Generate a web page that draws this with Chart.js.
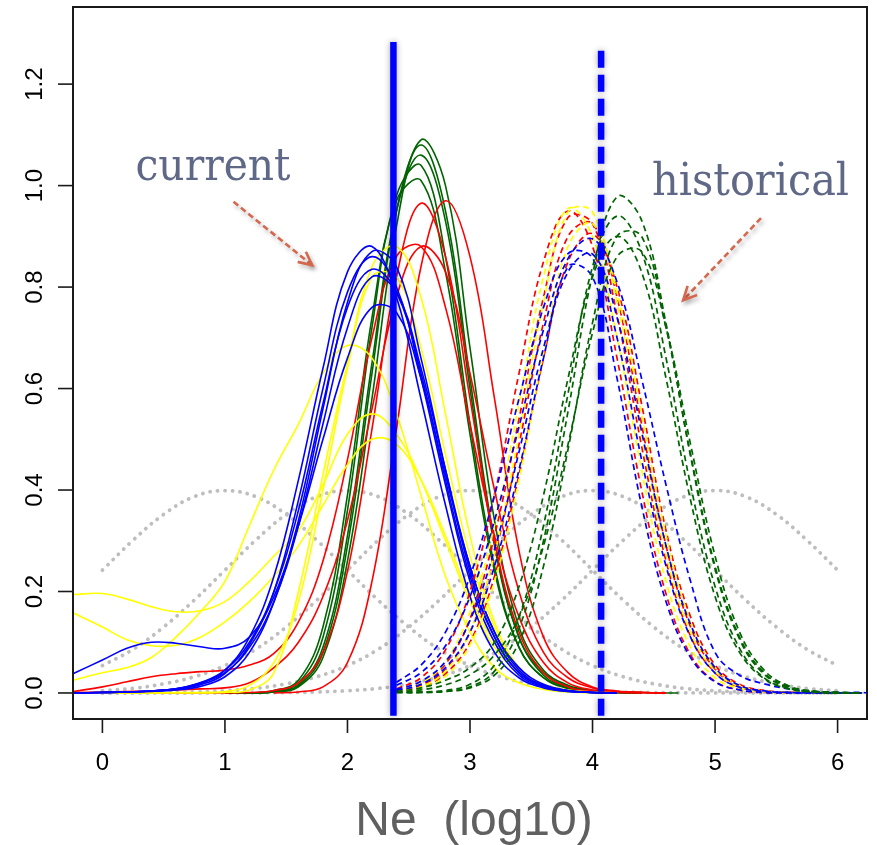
<!DOCTYPE html>
<html>
<head>
<meta charset="utf-8">
<script src="https://cdn.jsdelivr.net/npm/chart.js@4.4.1/dist/chart.umd.min.js"></script>
<style>
  html, body { margin: 0; padding: 0; background: #fff; }
  canvas { display: block; }
</style>
</head>
<body>
<canvas id="neChart" width="877" height="845"></canvas>
<script>
// x grids (log10 Ne) for each family of curves
const priorX = [0, 0.25, 0.5, 0.75, 1, 1.25, 1.5, 1.75, 2, 2.25, 2.5, 2.75, 3, 3.25, 3.5, 3.75, 4, 4.25, 4.5, 4.75, 5, 5.25, 5.5, 5.75, 6];
const currentX = [-0.24, 0, 0.2, 0.4, 0.6, 0.8, 1.0, 1.2, 1.4, 1.6, 1.8, 2.0, 2.2, 2.4, 2.6, 2.8, 3.0, 3.2, 3.4, 3.6, 3.8, 4.0, 4.2, 4.4, 4.6, 4.7];
const historicalX = [2.4, 2.6, 2.8, 3.0, 3.2, 3.4, 3.6, 3.8, 4.0, 4.2, 4.4, 4.6, 4.8, 5.0, 5.2, 5.4, 5.6, 5.8, 6.0, 6.2, 6.24];

const xTicks = [0, 1, 2, 3, 4, 5, 6];
const yTicks = [0, 0.2, 0.4, 0.6, 0.8, 1.0, 1.2];

// grey dotted prior densities
const priorCurves = [
  [0.242, 0.301, 0.352, 0.387, 0.399, 0.387, 0.352, 0.301, 0.242, 0.183, 0.130, 0.086, 0.054, 0.032, 0.018, 0.009, 0.0044, 0.002, 0.0009, 0.0004, 0.0001, 0, 0, 0, 0],
  [0.054, 0.086, 0.130, 0.183, 0.242, 0.301, 0.352, 0.387, 0.399, 0.387, 0.352, 0.301, 0.242, 0.183, 0.130, 0.086, 0.054, 0.032, 0.018, 0.009, 0.0044, 0.002, 0.0009, 0.0004, 0.0001],
  [0.0044, 0.009, 0.018, 0.032, 0.054, 0.086, 0.130, 0.183, 0.242, 0.301, 0.352, 0.387, 0.399, 0.387, 0.352, 0.301, 0.242, 0.183, 0.130, 0.086, 0.054, 0.032, 0.018, 0.009, 0.0044],
  [0.0001, 0.0004, 0.0009, 0.002, 0.0044, 0.009, 0.018, 0.032, 0.054, 0.086, 0.130, 0.183, 0.242, 0.301, 0.352, 0.387, 0.399, 0.387, 0.352, 0.301, 0.242, 0.183, 0.130, 0.086, 0.054],
  [0, 0, 0, 0, 0.0001, 0.0004, 0.0009, 0.002, 0.0044, 0.009, 0.018, 0.032, 0.054, 0.086, 0.130, 0.183, 0.242, 0.301, 0.352, 0.387, 0.399, 0.387, 0.352, 0.301, 0.242]
];

// current Ne posteriors (solid)
const blueCurrent = [
  [0, 0.001, 0.002, 0.004, 0.008, 0.018, 0.045, 0.11, 0.23, 0.42, 0.64, 0.83, 0.88, 0.78, 0.58, 0.37, 0.19, 0.08, 0.03, 0.01, 0.003, 0.001, 0, null, null, null],
  [0, 0.001, 0.002, 0.003, 0.006, 0.013, 0.032, 0.08, 0.18, 0.34, 0.56, 0.77, 0.87, 0.84, 0.66, 0.44, 0.24, 0.11, 0.04, 0.013, 0.004, 0.001, 0, null, null, null],
  [0, 0.001, 0.002, 0.004, 0.007, 0.016, 0.038, 0.095, 0.20, 0.38, 0.60, 0.79, 0.86, 0.80, 0.62, 0.41, 0.22, 0.10, 0.035, 0.012, 0.003, 0.001, 0, null, null, null],
  [0, 0.001, 0.002, 0.004, 0.008, 0.02, 0.045, 0.10, 0.20, 0.36, 0.57, 0.76, 0.835, 0.79, 0.63, 0.42, 0.23, 0.11, 0.04, 0.014, 0.004, 0.001, 0, null, null, null],
  [0, 0.001, 0.002, 0.004, 0.008, 0.02, 0.04, 0.09, 0.18, 0.33, 0.53, 0.72, 0.82, 0.79, 0.64, 0.44, 0.25, 0.12, 0.045, 0.015, 0.005, 0.001, 0, null, null, null],
  [0.038, 0.065, 0.088, 0.10, 0.098, 0.091, 0.088, 0.11, 0.19, 0.33, 0.50, 0.66, 0.76, 0.75, 0.62, 0.43, 0.25, 0.12, 0.05, 0.017, 0.005, 0.001, 0, null, null, null]
];
const yellowCurrent = [
  [0.194, 0.196, 0.185, 0.17, 0.16, 0.162, 0.18, 0.22, 0.27, 0.32, 0.41, 0.51, 0.55, 0.51, 0.42, 0.30, 0.18, 0.09, 0.04, 0.015, 0.005, 0.001, 0, null, null, null],
  [0.158, 0.13, 0.105, 0.093, 0.094, 0.11, 0.14, 0.18, 0.23, 0.29, 0.37, 0.45, 0.50, 0.49, 0.42, 0.31, 0.19, 0.10, 0.045, 0.017, 0.006, 0.002, 0, null, null, null],
  [0.025, 0.04, 0.05, 0.07, 0.11, 0.16, 0.22, 0.33, 0.44, 0.53, 0.63, 0.685, 0.66, 0.55, 0.39, 0.23, 0.12, 0.05, 0.02, 0.007, 0.002, 0, 0, null, null, null],
  [0, 0, 0, 0, 0, 0, 0.001, 0.006, 0.04, 0.20, 0.43, 0.65, 0.84, 0.88, 0.78, 0.55, 0.31, 0.14, 0.05, 0.015, 0.004, 0.001, 0, null, null, null],
  [0, 0, 0, 0, 0.001, 0.001, 0.003, 0.015, 0.06, 0.18, 0.40, 0.64, 0.82, 0.82, 0.68, 0.47, 0.27, 0.13, 0.05, 0.016, 0.005, 0.001, 0, null, null, null]
];
const redCurrent = [
  [null, null, null, null, null, null, null, null, 0, 0.002, 0.012, 0.06, 0.22, 0.52, 0.84, 0.97, 0.86, 0.58, 0.28, 0.11, 0.04, 0.012, 0.004, 0.001, 0, null],
  [0.003, 0.012, 0.022, 0.032, 0.038, 0.042, 0.045, 0.055, 0.078, 0.14, 0.26, 0.46, 0.70, 0.86, 0.88, 0.76, 0.53, 0.31, 0.15, 0.06, 0.02, 0.006, 0.002, 0.001, 0, null],
  [0.001, 0.002, 0.003, 0.004, 0.006, 0.008, 0.01, 0.02, 0.05, 0.10, 0.19, 0.34, 0.56, 0.78, 0.88, 0.83, 0.63, 0.40, 0.20, 0.08, 0.03, 0.01, 0.003, 0.001, 0, null],
  [0, 0, 0, 0, 0, 0, 0, 0.001, 0.005, 0.02, 0.08, 0.24, 0.52, 0.82, 0.965, 0.86, 0.58, 0.30, 0.12, 0.04, 0.012, 0.003, 0.001, 0, null, null]
];
const greenCurrent = [
  [null, null, null, null, null, null, 0, 0, 0.002, 0.012, 0.07, 0.26, 0.58, 0.92, 1.09, 1.00, 0.68, 0.34, 0.13, 0.045, 0.015, 0.005, 0.002, 0.001, 0, 0],
  [null, null, null, null, null, null, 0, 0, 0.002, 0.014, 0.08, 0.29, 0.63, 0.95, 1.08, 0.95, 0.62, 0.30, 0.11, 0.04, 0.013, 0.004, 0.001, 0, null, null],
  [null, null, null, null, null, null, 0, 0, 0.003, 0.016, 0.09, 0.31, 0.65, 0.95, 1.06, 0.93, 0.60, 0.29, 0.11, 0.035, 0.011, 0.003, 0.001, 0, null, null],
  [null, null, null, null, null, null, 0, 0, 0.004, 0.02, 0.11, 0.36, 0.72, 0.98, 1.04, 0.86, 0.53, 0.25, 0.09, 0.03, 0.009, 0.003, 0.001, 0, null, null],
  [null, null, null, null, null, null, 0, 0, 0.005, 0.025, 0.13, 0.39, 0.74, 0.97, 1.01, 0.83, 0.51, 0.24, 0.09, 0.03, 0.01, 0.003, 0.001, 0, null, null]
];

// historical Ne posteriors (dashed)
const blueHistorical = [
  [0.015, 0.04, 0.093, 0.19, 0.34, 0.525, 0.716, 0.856, 0.895, 0.81, 0.62, 0.41, 0.22, 0.08, 0.035, 0.018, 0.008, 0.003, 0.001, 0.001, 0],
  [0.021, 0.055, 0.12, 0.23, 0.39, 0.58, 0.76, 0.866, 0.857, 0.70, 0.46, 0.25, 0.11, 0.039, 0.011, 0.003, 0.001, 0, 0, 0, null],
  [0.007, 0.023, 0.062, 0.143, 0.283, 0.475, 0.68, 0.83, 0.865, 0.74, 0.516, 0.29, 0.135, 0.05, 0.015, 0.004, 0.001, 0, 0, 0, null],
  [0.005, 0.017, 0.05, 0.12, 0.25, 0.44, 0.66, 0.84, 0.82, 0.62, 0.37, 0.18, 0.07, 0.022, 0.006, 0.001, 0, 0, 0, 0, null]
];
const redHistorical = [
  [0.005, 0.019, 0.057, 0.146, 0.31, 0.54, 0.78, 0.937, 0.925, 0.745, 0.487, 0.26, 0.112, 0.04, 0.011, 0.003, 0.001, 0, 0, 0, null],
  [0.004, 0.015, 0.046, 0.12, 0.27, 0.49, 0.73, 0.90, 0.925, 0.78, 0.53, 0.29, 0.13, 0.047, 0.014, 0.004, 0.001, 0, 0, 0, null],
  [0.003, 0.012, 0.038, 0.10, 0.23, 0.43, 0.66, 0.85, 0.905, 0.80, 0.57, 0.32, 0.15, 0.055, 0.017, 0.005, 0.001, 0, 0, 0, null],
  [0.008, 0.03, 0.085, 0.2, 0.39, 0.63, 0.85, 0.95, 0.88, 0.66, 0.40, 0.195, 0.075, 0.023, 0.006, 0.001, 0, 0, 0, 0, null]
];
const yellowHistorical = [
  [0.003, 0.012, 0.043, 0.12, 0.274, 0.51, 0.77, 0.948, 0.948, 0.77, 0.51, 0.274, 0.12, 0.043, 0.012, 0.003, 0.001, 0, 0, 0, null],
  [0.005, 0.019, 0.062, 0.16, 0.33, 0.57, 0.82, 0.955, 0.90, 0.70, 0.44, 0.22, 0.09, 0.03, 0.008, 0.002, 0, 0, 0, 0, null],
  [0.002, 0.009, 0.033, 0.095, 0.22, 0.42, 0.67, 0.88, 0.925, 0.79, 0.55, 0.31, 0.14, 0.05, 0.015, 0.004, 0.001, 0, 0, 0, null]
];
const greenHistorical = [
  [0.001, 0.001, 0.003, 0.012, 0.043, 0.127, 0.30, 0.555, 0.825, 0.978, 0.932, 0.728, 0.467, 0.245, 0.106, 0.037, 0.011, 0.003, 0.001, 0, null],
  [0.001, 0.002, 0.005, 0.017, 0.055, 0.15, 0.33, 0.59, 0.84, 0.94, 0.87, 0.66, 0.41, 0.21, 0.088, 0.03, 0.009, 0.002, 0, 0, null],
  [0.001, 0.001, 0.003, 0.01, 0.035, 0.10, 0.25, 0.48, 0.73, 0.90, 0.90, 0.72, 0.47, 0.25, 0.11, 0.04, 0.012, 0.003, 0.001, 0, null],
  [0.003, 0.01, 0.025, 0.05, 0.10, 0.21, 0.39, 0.62, 0.82, 0.90, 0.83, 0.62, 0.38, 0.19, 0.08, 0.028, 0.008, 0.002, 0, 0, null],
  [0.002, 0.006, 0.016, 0.036, 0.075, 0.15, 0.29, 0.49, 0.71, 0.86, 0.87, 0.72, 0.49, 0.27, 0.12, 0.045, 0.014, 0.004, 0.001, 0, null]
];

// point estimates (vertical markers)
const currentEstimate = 2.375;
const historicalEstimate = 4.07;
const currentMarkY = [-0.045, 1.283];
const historicalMarkY = [-0.045, 1.27];

function toPoints(xs, ys) {
  return xs.map((x, i) => ({ x: x, y: ys[i] })).filter(p => p.y !== null);
}

const datasets = [];

priorCurves.forEach(ys => datasets.push({
  data: toPoints(priorX, ys),
  borderColor: '#bebebe', borderWidth: 3.8,
  borderDash: [0.1, 7.4], borderCapStyle: 'round',
  order: 4
}));

[[blueCurrent, '#0000ff'], [yellowCurrent, '#ffff00'], [redCurrent, '#ff0000'], [greenCurrent, '#006400']].forEach(([group, col]) => {
  group.forEach(ys => datasets.push({
    data: toPoints(currentX, ys),
    borderColor: col, borderWidth: 1.6,
    order: 3
  }));
});

[[greenHistorical, '#006400'], [blueHistorical, '#0000ff'], [yellowHistorical, '#ffff00'], [redHistorical, '#ff0000']].forEach(([group, col]) => {
  group.forEach(ys => datasets.push({
    data: toPoints(historicalX, ys),
    borderColor: col, borderWidth: 1.7,
    borderDash: [6, 4],
    order: 2
  }));
});

datasets.push({
  data: currentMarkY.map(y => ({ x: currentEstimate, y: y })),
  borderColor: '#0000ff', borderWidth: 6.5, tension: 0,
  glow: true, order: 1
});
datasets.push({
  data: historicalMarkY.map(y => ({ x: historicalEstimate, y: y })),
  borderColor: '#0000ff', borderWidth: 6.5, tension: 0,
  borderDash: [17, 7], glow: true, order: 1
});

// soft shadow behind the two estimate lines
const glowPlugin = {
  id: 'glow',
  beforeDatasetDraw(chart, args) {
    const ds = chart.data.datasets[args.index];
    if (ds.glow) {
      chart.ctx.save();
      chart.ctx.shadowColor = 'rgba(0,0,0,0.35)';
      chart.ctx.shadowBlur = 6;
    }
  },
  afterDatasetDraw(chart, args) {
    if (chart.data.datasets[args.index].glow) chart.ctx.restore();
  }
};

function fitText(ctx, text, x, y, width, font) {
  ctx.font = font;
  const w = ctx.measureText(text).width;
  ctx.save();
  ctx.translate(x, y);
  ctx.scale(width / w, 1);
  ctx.fillText(text, 0, 0);
  ctx.restore();
}

function dashedArrow(ctx, x0, y0, x1, y1) {
  ctx.save();
  ctx.strokeStyle = '#d4684e';
  ctx.lineWidth = 2.6;
  ctx.shadowColor = 'rgba(0,0,0,0.3)';
  ctx.shadowBlur = 4;
  ctx.shadowOffsetX = 2;
  ctx.shadowOffsetY = 3;
  ctx.setLineDash([6, 3.5]);
  ctx.beginPath();
  ctx.moveTo(x0, y0);
  ctx.lineTo(x1, y1);
  ctx.stroke();
  ctx.setLineDash([]);
  const a = Math.atan2(y1 - y0, x1 - x0);
  const len = 15;
  ctx.beginPath();
  ctx.moveTo(x1 - len * Math.cos(a - 0.45), y1 - len * Math.sin(a - 0.45));
  ctx.lineTo(x1, y1);
  ctx.lineTo(x1 - len * Math.cos(a + 0.45), y1 - len * Math.sin(a + 0.45));
  ctx.stroke();
  ctx.restore();
}

// R-style box, ticks, labels and the slide annotations
const rAxes = {
  id: 'rAxes',
  afterDraw(chart) {
    const ctx = chart.ctx;
    const xs = chart.scales.x, ys = chart.scales.y;
    const area = chart.chartArea;
    ctx.save();
    ctx.strokeStyle = '#1a1a1a';
    ctx.lineWidth = 2;
    ctx.strokeRect(area.left, area.top, area.right - area.left, area.bottom - area.top);

    ctx.fillStyle = '#000';
    ctx.font = '24px "Liberation Sans", Arial, sans-serif';
    ctx.lineWidth = 1.6;
    xTicks.forEach(t => {
      const px = xs.getPixelForValue(t);
      ctx.beginPath();
      ctx.moveTo(px, area.bottom);
      ctx.lineTo(px, area.bottom + 14);
      ctx.stroke();
      ctx.textAlign = 'center';
      ctx.textBaseline = 'alphabetic';
      ctx.fillText(String(t), px, area.bottom + 51);
    });
    yTicks.forEach(t => {
      const py = ys.getPixelForValue(t);
      ctx.beginPath();
      ctx.moveTo(area.left, py);
      ctx.lineTo(area.left - 15, py);
      ctx.stroke();
      ctx.save();
      ctx.translate(area.left - 31, py);
      ctx.rotate(-Math.PI / 2);
      ctx.textAlign = 'center';
      ctx.textBaseline = 'alphabetic';
      ctx.fillText(t.toFixed(1), 0, 0);
      ctx.restore();
    });

    ctx.fillStyle = '#606060';
    ctx.font = '48px "Liberation Sans", Arial, sans-serif';
    ctx.textAlign = 'center';
    ctx.fillText('Ne  (log10)', (area.left + area.right) / 2 + 4, area.bottom + 116);

    ctx.fillStyle = '#5f6887';
    ctx.textAlign = 'left';
    fitText(ctx, 'current', xs.getPixelForValue(0.27), ys.getPixelForValue(1.011), 155, '44px "DejaVu Serif", Georgia, serif');
    fitText(ctx, 'historical', xs.getPixelForValue(4.486), ys.getPixelForValue(0.982), 197, '44px "DejaVu Serif", Georgia, serif');

    dashedArrow(ctx, xs.getPixelForValue(1.07), ys.getPixelForValue(0.968), xs.getPixelForValue(1.713), ys.getPixelForValue(0.843));
    dashedArrow(ctx, xs.getPixelForValue(5.375), ys.getPixelForValue(0.936), xs.getPixelForValue(4.739), ys.getPixelForValue(0.774));
    ctx.restore();
  }
};

new Chart(document.getElementById('neChart'), {
  type: 'line',
  data: { datasets: datasets },
  options: {
    responsive: false,
    animation: false,
    devicePixelRatio: 1,
    events: [],
    layout: { padding: { left: 73, right: 10, top: 7, bottom: 126 } },
    elements: {
      point: { radius: 0 },
      line: { tension: 0.4, fill: false }
    },
    plugins: { legend: { display: false }, tooltip: { enabled: false } },
    scales: {
      x: { type: 'linear', min: -0.24, max: 6.24, display: false },
      y: { type: 'linear', min: -0.0513, max: 1.352, display: false }
    }
  },
  plugins: [glowPlugin, rAxes]
});
</script>
</body>
</html>
